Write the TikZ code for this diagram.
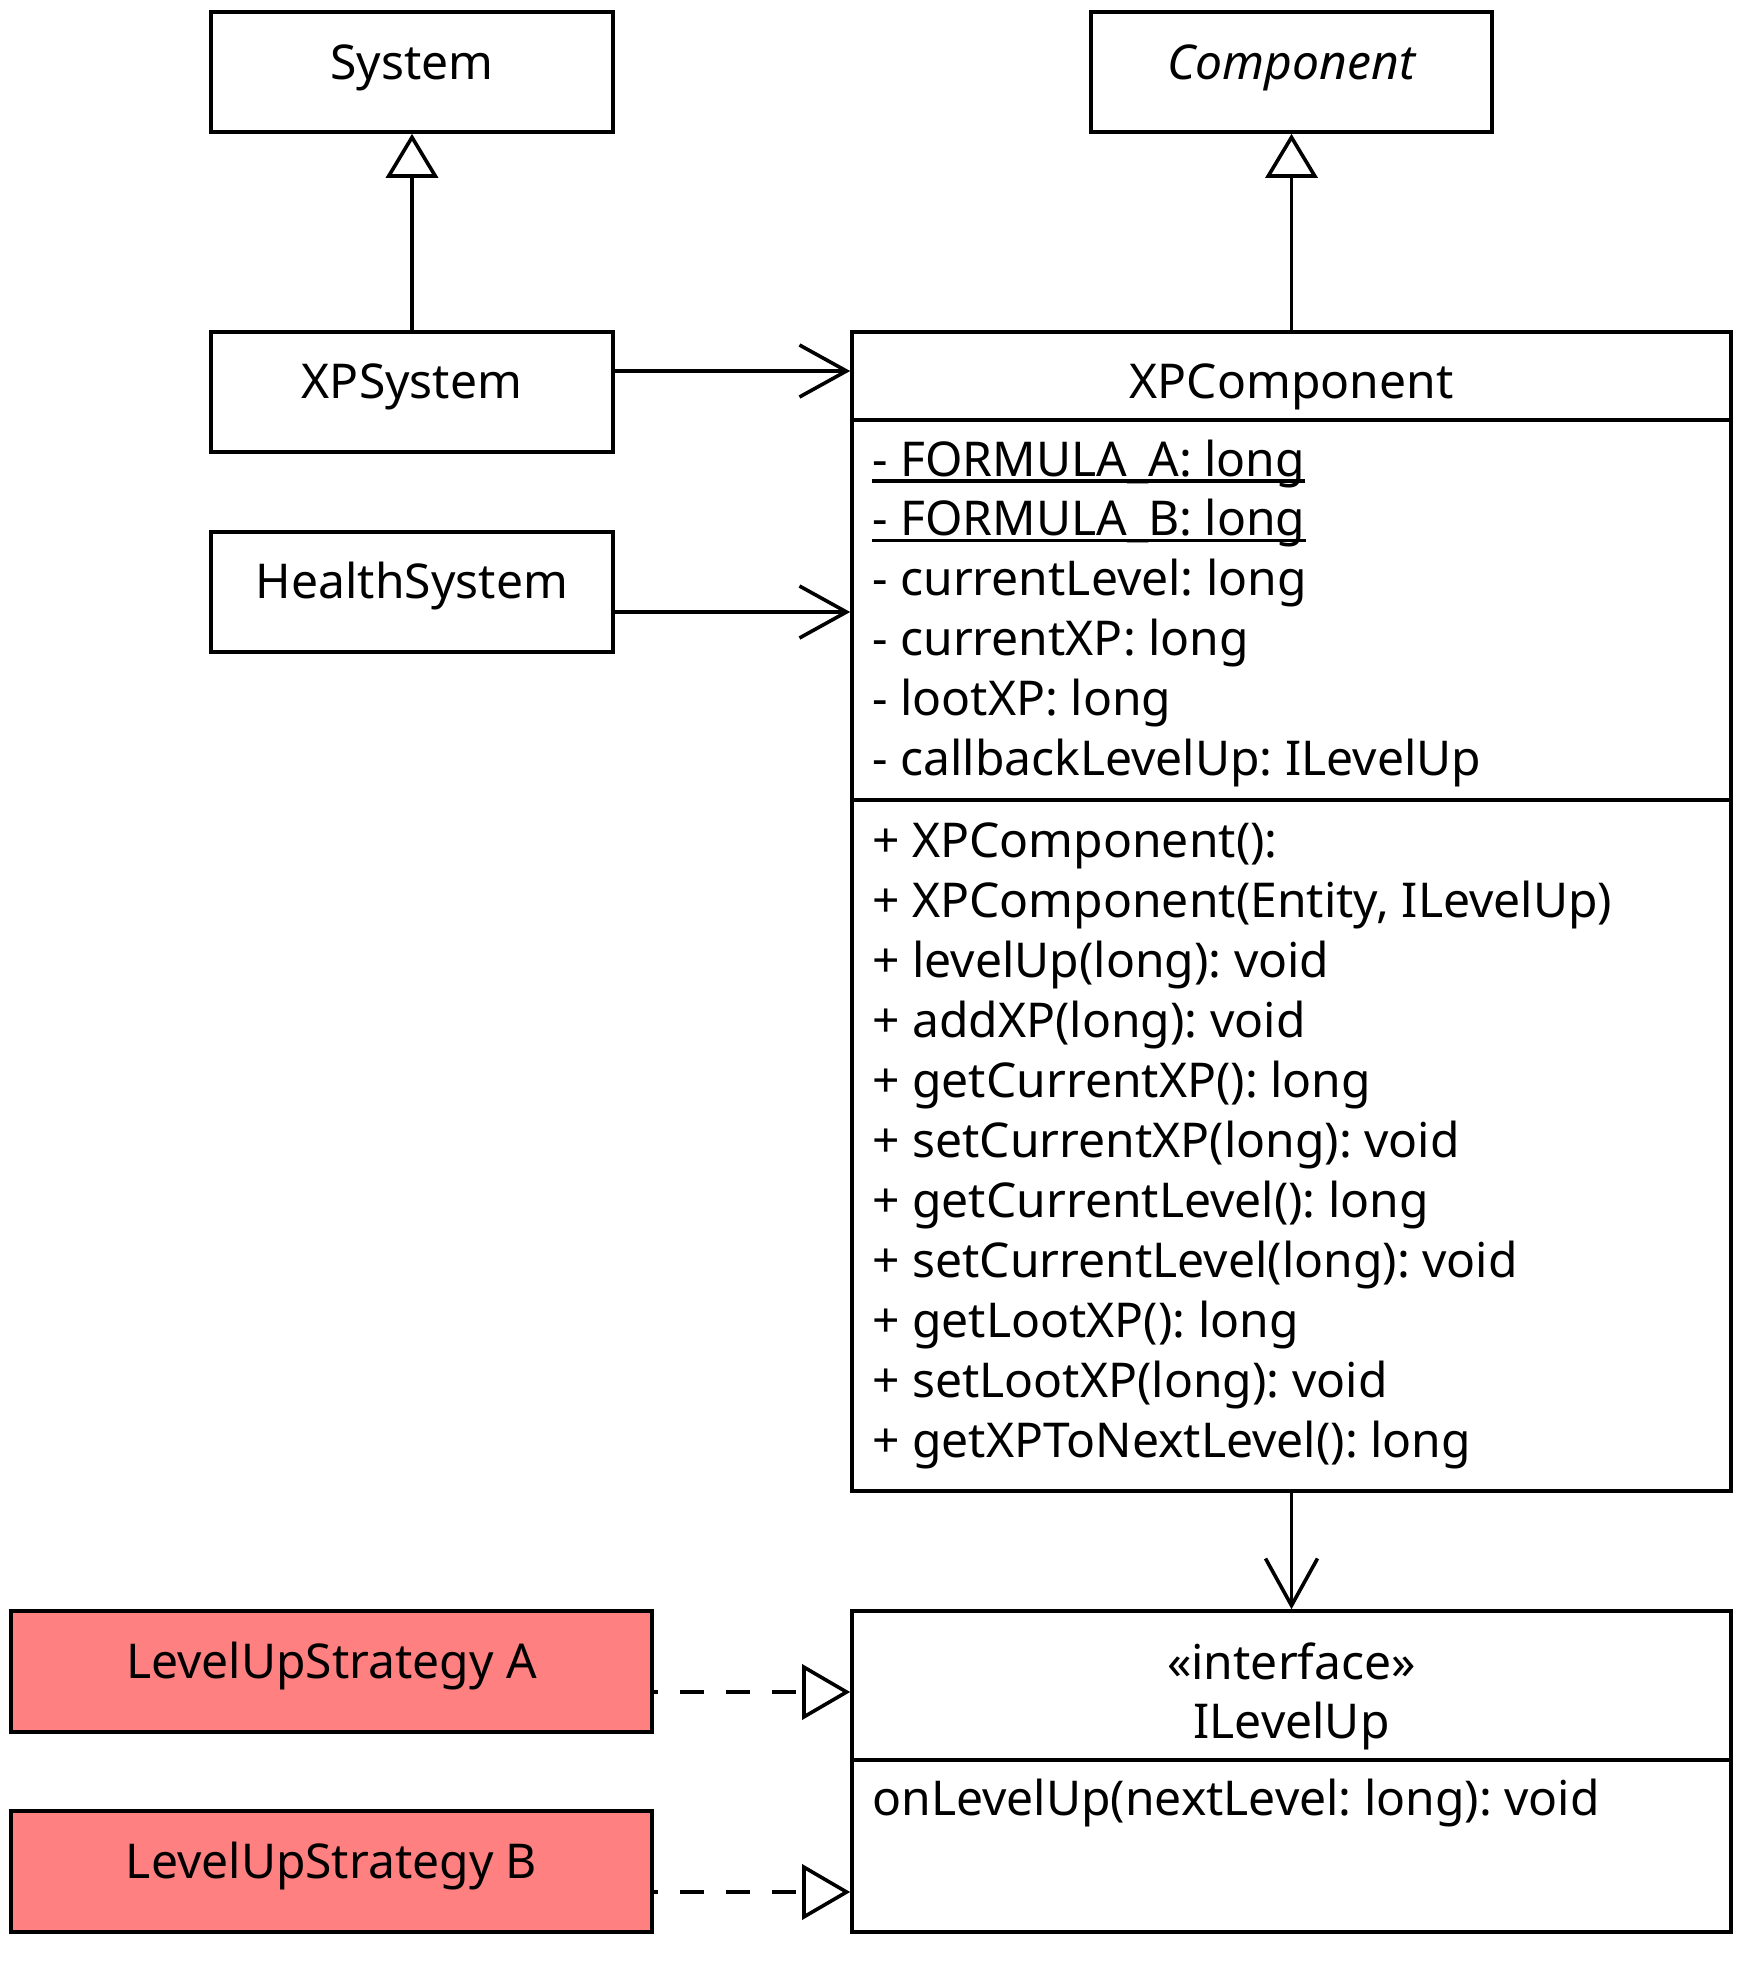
\documentclass[tikz,border=0pt]{standalone}
\usepackage{fontspec}
\setmainfont{Noto Sans}
\usetikzlibrary{arrows.meta}
\definecolor{strat}{HTML}{FF8080}
\frenchspacing
\newcommand\myul[1]{\setbox0\hbox{#1}\rlap{\rule[-3.3pt]{\wd0}{1.6pt}}\box0}
\tikzset{
  umlbox/.style={draw=black, line width=1.8pt, inner sep=0pt, fill=white},
  lbl/.style={anchor=base, inner sep=0pt, font=\fontsize{24pt}{30pt}\selectfont},
  mem/.style={anchor=base west, inner sep=0pt, font=\fontsize{24pt}{30pt}\selectfont},
  sepline/.style={line width=1.8pt},
  gen/.style={line width=1.8pt, -{Triangle[open, fill=white, length=22pt, width=26pt]}},
  assoc/.style={line width=1.8pt, -{Straight Barb[length=23.5pt, width=26pt]}},
  real/.style={line width=1.8pt, dash pattern=on 12pt off 11pt, dash phase=10pt, -{Triangle[open, fill=white, length=24pt, width=27.5pt]}}
}
\begin{document}
\begin{tikzpicture}[x=0.5pt, y=-0.5pt]
\useasboundingbox (0,0) rectangle (1740,1980);
\fill[white] (0,0) rectangle (1740,1980);

% boxes
\node[umlbox, minimum width=201pt, minimum height=60pt] (sys) at (412,72) {};
\node[lbl] (sysT) at (412,80) {System};
\node[umlbox, minimum width=200.5pt, minimum height=60pt] (comp) at (1291.5,72) {};
\node[lbl] (compT) at (1291.5,80) {\itshape Component};
\node[umlbox, minimum width=201pt, minimum height=60pt] (xps) at (412,392) {};
\node[lbl] (xpsT) at (412,398.5) {XPSystem};
\node[umlbox, minimum width=201pt, minimum height=60pt] (hs) at (412,592) {};
\node[lbl] (hsT) at (412,598.5) {HealthSystem};

% XPComponent
\node[umlbox, minimum width=439.5pt, minimum height=579.5pt] (xpc) at (1291.5,911.5) {};
\node[lbl] (xpcT) at (1291.5,398.5) {XPComponent};
\coordinate (xpcD1) at (852,420);
\coordinate (xpcD2) at (852,800);
\draw[sepline] (xpcD1) -- (xpcD1 -| xpc.east);
\draw[sepline] (xpcD2) -- (xpcD2 -| xpc.east);
\node[mem] (a1) at (872,476) {\myul{- FORMULA\_A: long}};
\node[mem] (a2) at (872,535.8) {\myul{- FORMULA\_B: long}};
\node[mem] (a3) at (872,595.6) {- currentLevel: long};
\node[mem] (a4) at (872,655.4) {- currentXP: long};
\node[mem] (a5) at (872,715.2) {- lootXP: long};
\node[mem] (a6) at (872,775) {- callbackLevelUp: ILevelUp};
\node[mem] (m1) at (872,857) {+ XPComponent():};
\node[mem] (m2) at (872,917) {+ XPComponent(Entity, ILevelUp)};
\node[mem] (m3) at (872,977) {+ levelUp(long): void};
\node[mem] (m4) at (872,1037) {+ addXP(long): void};
\node[mem] (m5) at (872,1097) {+ getCurrentXP(): long};
\node[mem] (m6) at (872,1157) {+ setCurrentXP(long): void};
\node[mem] (m7) at (872,1217) {+ getCurrentLevel(): long};
\node[mem] (m8) at (872,1277) {+ setCurrentLevel(long): void};
\node[mem] (m9) at (872,1337) {+ getLootXP(): long};
\node[mem] (m10) at (872,1397) {+ setLootXP(long): void};
\node[mem] (m11) at (872,1457) {+ getXPToNextLevel(): long};

% ILevelUp
\node[umlbox, minimum width=439.5pt, minimum height=160.5pt] (ilu) at (1291.5,1771.5) {};
\node[lbl] (iluS) at (1291.5,1679) {«interface»};
\node[lbl] (iluT) at (1291.5,1738.5) {ILevelUp};
\coordinate (iluD) at (852,1760);
\draw[sepline] (iluD) -- (iluD -| ilu.east);
\node[mem] (o1) at (872,1815) {onLevelUp(nextLevel: long): void};

% strategies
\node[umlbox, fill=strat, minimum width=320.5pt, minimum height=60.5pt] (sa) at (331.5,1671.5) {};
\node[lbl] (saT) at (331.5,1678.5) {LevelUpStrategy A};
\node[umlbox, fill=strat, minimum width=320.5pt, minimum height=60.5pt] (sb) at (331.5,1871.5) {};
\node[lbl] (sbT) at (331.5,1878.5) {LevelUpStrategy B};

% connectors
\draw[gen] (xps.north) -- (sys.south);
\draw[gen] (xpc.north) -- (comp.south);
\draw[assoc] ([yshift=10.5pt]xps.east) -- ([yshift=10.5pt]xps.east -| xpc.west);
\draw[assoc] ([yshift=-10pt]hs.east) -- ([yshift=-10pt]hs.east -| xpc.west);
\draw[assoc] (xpc.south) -- (ilu.north);
\draw[real] ([yshift=-10.25pt]sa.east) -- ([yshift=-10.25pt]sa.east -| ilu.west);
\draw[real] ([yshift=-10.25pt]sb.east) -- ([yshift=-10.25pt]sb.east -| ilu.west);
\end{tikzpicture}
\end{document}
